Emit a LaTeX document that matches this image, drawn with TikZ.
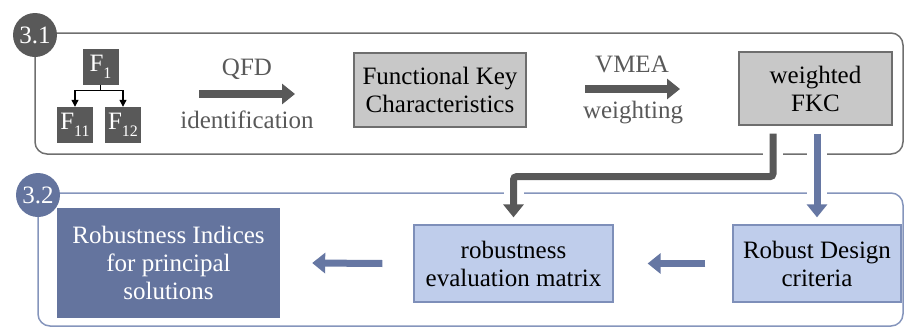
\documentclass[tikz,border=0pt]{standalone}
\usepackage{fontspec}
\setmainfont{Liberation Serif}
\newfontfamily\tmsfont{Liberation Serif}
\usetikzlibrary{arrows.meta,calc}

\definecolor{dgray}{HTML}{595959}
\definecolor{framegray}{HTML}{6F6F6F}
\definecolor{lgray}{HTML}{C8C8C8}
\definecolor{lgrayline}{HTML}{6E6E6E}
\definecolor{bdark}{HTML}{64749E}
\definecolor{barrowc}{HTML}{6677A3}
\definecolor{lblue}{HTML}{BFCDEB}
\definecolor{lblueline}{HTML}{7E8FB9}
\definecolor{frameblue}{HTML}{8595BC}

\newcommand{\txt}{\tmsfont\fontsize{25}{28}\selectfont}
\newcommand{\sbs}[1]{\raisebox{-0.28em}{\fontsize{16}{16}\selectfont #1}}

\tikzset{
  frameA/.style={draw=framegray, line width=1.5pt, rounded corners=12pt},
  frameB/.style={draw=frameblue, line width=1.5pt, rounded corners=12pt},
  stagecirc/.style={circle, minimum size=44pt, inner sep=0pt, text=white, font=\txt},
  fbox/.style={fill=dgray, text=white, minimum width=36pt, minimum height=36pt, inner sep=0pt, font=\txt},
  graybox/.style={draw=lgrayline, fill=lgray, line width=1.3pt, align=center, inner sep=0pt, font=\txt},
  bluebox/.style={draw=lblueline, fill=lblue, line width=1.3pt, align=center, inner sep=0pt, font=\txt},
  darkbox/.style={fill=bdark, text=white, align=center, inner sep=0pt, font=\txt},
  lbl/.style={text=dgray, inner sep=0pt, font=\txt},
  tree/.style={draw=black, line width=1.2pt, -{Triangle[width=7pt,length=7pt]}},
  bigarrow/.style={line width=7.5pt, -{Triangle[width=20pt,length=13pt]}},
  halo/.style={draw=white, line width=20pt},
}

\begin{document}
\begin{tikzpicture}[x=1pt, y=-1pt]
\useasboundingbox (0,0) rectangle (906,327);

% stage frames
\draw[frameA] (35,33) rectangle (903,154);
\draw[frameB] (38,193) rectangle (903,326);

% stage 3.1: function tree
\node[fbox] (f1) at (100.5,67) {F\sbs{1}};
\node[fbox] (f11) at (75,125) {F\sbs{11}};
\node[fbox] (f12) at (123,125) {F\sbs{12}};
\coordinate (fork) at ($(f1.south)+(0,5)$);
\draw[tree] (f1.south) -- (fork) -| (f11.north);
\draw[tree] (fork) -| (f12.north);

% QFD step
\node[lbl, anchor=base] (qfd) at (247,75) {QFD};
\node[lbl, anchor=base] (ident) at (247,128) {identification};
\coordinate (qa) at (199,94);
\coordinate (qb) at (295,94);
\draw[bigarrow, draw=dgray] (qa) -- (qb);

\node[graybox, minimum width=172pt, minimum height=74pt] (fkc) at (440,90) {Functional Key\\Characteristics};

% VMEA step
\node[lbl, anchor=base] (vmea) at (632,72) {VMEA};
\node[lbl, anchor=base] (wgt) at (633,118) {weighting};
\coordinate (va) at (585,89);
\coordinate (vb) at (680,89);
\draw[bigarrow, draw=dgray] (va) -- (vb);

\node[graybox, minimum width=153pt, minimum height=73pt] (wfkc) at (815.5,88.5) {weighted\\FKC};

% stage 3.2 boxes
\node[bluebox, minimum width=199pt, minimum height=77pt] (rem) at (513.5,263.5) {robustness\\evaluation matrix};
\node[bluebox, minimum width=168pt, minimum height=77pt] (rdc) at (817,263.5) {Robust Design\\criteria};
\node[darkbox, minimum width=223pt, minimum height=110pt] (ri) at (168.5,263) {Robustness Indices\\for principal\\solutions};

% connectors between the stages
\coordinate (dstart) at ($(wfkc.south)+(-42.5,8)$);
\coordinate (dend) at ($(rem.north)+(0,-7)$);
\coordinate (bstart) at ($(wfkc.south)+(1.5,8)$);
\coordinate (bend) at ($(rdc.north)+(0,-7)$);
\draw[halo] (dstart) -- ++(0,43) -| (dend);
\draw[halo] (bstart) -- (bend);
\draw[bigarrow, line width=7pt, draw=dgray, rounded corners=3pt] (dstart) -- ++(0,43) -| (dend);
\draw[bigarrow, line width=7pt, draw=barrowc] (bstart) -- (bend);

% flow inside stage 3.2
\draw[bigarrow, line width=7pt, draw=barrowc] ($(rdc.west)+(-27,0)$) -- ($(rem.east)+(34,0)$);
\draw[bigarrow, line width=7pt, draw=barrowc] ($(rem.west)+(-31,0)$) -- ($(ri.east)+(32,0)$);

% stage markers
\node[stagecirc, fill=dgray] (s31) at (35,35) {3.1};
\node[stagecirc, fill=bdark] (s32) at (38,195) {3.2};
\end{tikzpicture}
\end{document}
